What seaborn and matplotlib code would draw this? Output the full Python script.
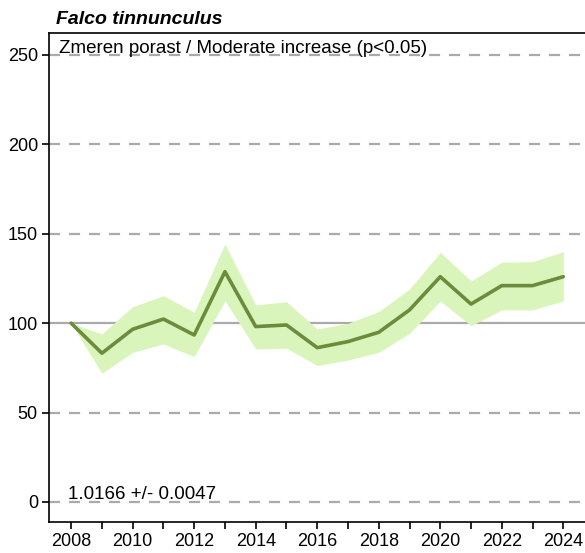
import matplotlib
matplotlib.use("Agg")
import matplotlib.pyplot as plt
import seaborn as sns
import pandas as pd

sns.set_style("white")
plt.rcParams["font.family"] = ["Liberation Sans", "DejaVu Sans"]
plt.rcParams["text.color"] = "black"
plt.rcParams["xtick.color"] = "black"
plt.rcParams["ytick.color"] = "black"

# index values
years = list(range(2008, 2025))
index = [100, 83.2, 96.6, 102.3, 93.4, 128.8, 98.1, 99.0, 86.3, 89.7,
         94.9, 107.4, 126.0, 110.7, 121.0, 121.0, 126.0]
upper = [100, 94.0, 109.2, 115.4, 106.1, 144.3, 110.2, 112.0, 96.8, 99.9,
         106.5, 119.1, 139.6, 123.6, 134.1, 134.4, 140.0]
lower = [100, 72.0, 83.7, 88.4, 81.3, 112.6, 85.6, 86.0, 76.3, 79.4,
         83.7, 94.3, 112.4, 98.6, 107.4, 107.4, 112.4]
species = "Falco tinnunculus"
trend_label = "Zmeren porast / Moderate increase (p<0.05)"
slope_label = "1.0166 +/- 0.0047"

df = pd.DataFrame({"year": years, "index": index})

fig = plt.figure(figsize=(5.85, 5.53), dpi=100)
ax = fig.add_axes([49 / 585, 31 / 553, 542 / 585, 489 / 553])

# grid lines
for y in [0, 50, 150, 200, 250]:
    ax.axhline(y, color="#aaaaaa", lw=1.6, ls=(0, (5, 4)), zorder=0)
ax.axhline(100, color="#aaaaaa", lw=1.6, zorder=0)

ax.fill_between(years, lower, upper, color="#d9f5bb", lw=0, zorder=1)
sns.lineplot(data=df, x="year", y="index", color="#6b8c3a", lw=2.6, ax=ax, zorder=2)

ax.set_xlim(2007.28, 2024.9)
ax.set_ylim(-11.2, 262.3)
ax.set_xticks(years)
ax.set_xticklabels([str(y) if y % 2 == 0 else "" for y in years])
ax.set_yticks([0, 50, 100, 150, 200, 250])
ax.tick_params(axis="both", direction="out", length=5, width=1.2,
               color="black", labelcolor="black", labelsize=13, pad=3,
               bottom=True, left=True)
ax.set_xlabel("")
ax.set_ylabel("")
for s in ax.spines.values():
    s.set_color("black")
    s.set_linewidth(1.2)

ax.text(0.018, 0.985, trend_label, transform=ax.transAxes, ha="left", va="top",
        fontsize=13.5, color="black")
ax.text(0.035, 17 / 489 + 0.005, slope_label, transform=ax.transAxes, ha="left",
        va="bottom", fontsize=13.5, color="black")
fig.text(56 / 585, 1 - 28 / 553, species, ha="left", va="bottom",
         fontsize=14, fontweight="bold", fontstyle="italic", color="black")

fig.savefig("out.png", dpi=100)
